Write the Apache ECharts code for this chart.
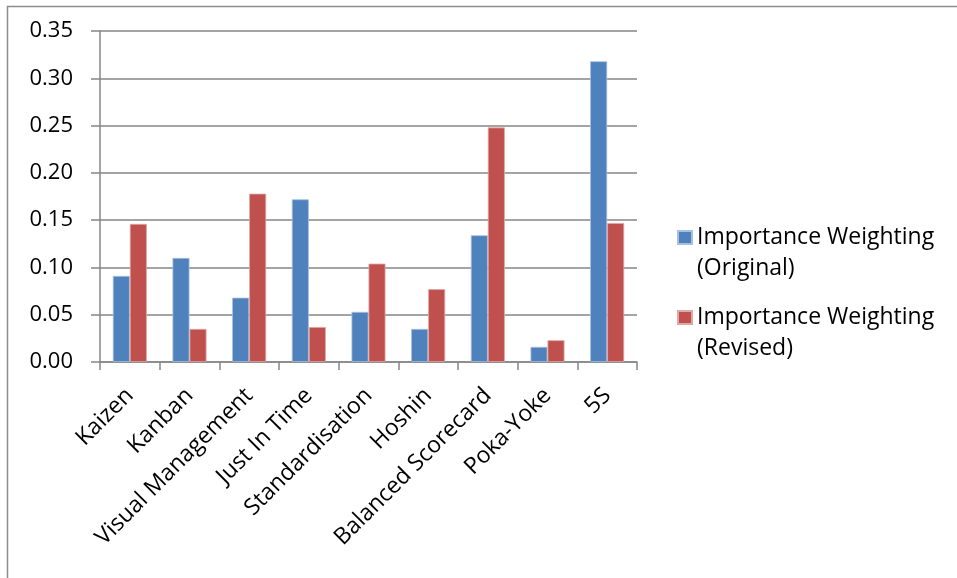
<!DOCTYPE html>
<html>
<head>
<meta charset="utf-8">
<script src="https://cdn.jsdelivr.net/npm/echarts@6/dist/echarts.min.js"></script>
<style>
	html, body { margin: 0; padding: 0; background: #fff; }
	#chart { width: 957px; height: 578px; }
</style>
</head>
<body>
<div id="chart"></div>
<script>
const categories = ["Kaizen", "Kanban", "Visual Management", "Just In Time", "Standardisation", "Hoshin", "Balanced Scorecard", "Poka-Yoke", "5S"];
const original = [0.091, 0.110, 0.068, 0.172, 0.053, 0.035, 0.134, 0.016, 0.318];
const revised = [0.146, 0.035, 0.178, 0.037, 0.104, 0.077, 0.248, 0.023, 0.147];
const seriesNames = ["Importance Weighting (Original)", "Importance Weighting (Revised)"];

const colors = { blue: "#4f81bd", red: "#c0504d", axis: "#868686", ink: "#000000" };
const font = "'Open Sans', sans-serif";

// legend text wraps after "Weighting"; an empty first line keeps the icon level with line one
const legendItem = (name, top) => ({
	data: [name],
	orient: "vertical",
	left: 677,
	top,
	padding: 0,
	itemWidth: 14,
	itemHeight: 13,
	icon: "rect",
	selectedMode: false,
	formatter: n => "\n" + n.replace(" (", "\n("),
	textStyle: { color: colors.ink, fontFamily: font, fontSize: 23, lineHeight: 31 }
});

const chart = echarts.init(document.getElementById("chart"), null, { renderer: "canvas" });
chart.setOption({
	animation: false,
	color: [colors.blue, colors.red],
	graphic: [{
		type: "rect",
		shape: { x: 7.5, y: 6.5, width: 1000, height: 1000 },
		style: { fill: "none", stroke: "#8c8c8c", lineWidth: 1.5 },
		silent: true
	}],
	grid: { left: 100, right: 320, top: 31, bottom: 216 },
	legend: [legendItem(seriesNames[0], 191), legendItem(seriesNames[1], 271)],
	xAxis: {
		type: "category",
		data: categories,
		axisLine: { lineStyle: { color: colors.axis, width: 1.5 } },
		axisTick: { show: true, length: 8, lineStyle: { color: colors.axis, width: 1.5 } },
		axisLabel: { rotate: 45, margin: 30, interval: 0, color: colors.ink, fontFamily: font, fontSize: 23 }
	},
	yAxis: {
		type: "value",
		min: 0,
		max: 0.35,
		interval: 0.05,
		axisLine: { show: true, lineStyle: { color: colors.axis, width: 1.5 } },
		axisTick: { show: true, length: 9, lineStyle: { color: colors.axis, width: 1.5 } },
		splitLine: { lineStyle: { color: colors.axis, width: 1.5 } },
		axisLabel: { margin: 27, color: colors.ink, fontFamily: font, fontSize: 22, formatter: v => v.toFixed(2) }
	},
	series: [
		{ name: seriesNames[0], type: "bar", data: original, barGap: "0%", barCategoryGap: "43%", itemStyle: { color: colors.blue, borderColor: "#a7c0de", borderWidth: 0.8 } },
		{ name: seriesNames[1], type: "bar", data: revised, barGap: "0%", barCategoryGap: "43%", itemStyle: { color: colors.red, borderColor: "#dfa7a6", borderWidth: 0.8 } }
	]
});
</script>
</body>
</html>
